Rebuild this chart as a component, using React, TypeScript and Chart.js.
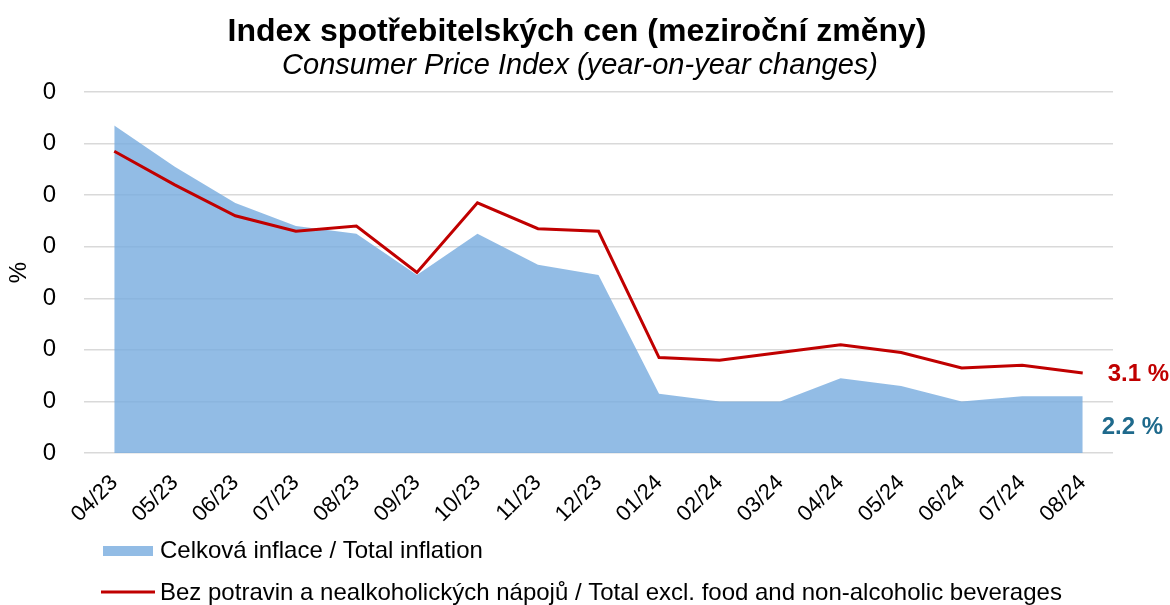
import React, { useEffect, useRef } from "react";
import { Chart, registerables } from "chart.js";

Chart.register(...registerables);

const categories = ["04/23", "05/23", "06/23", "07/23", "08/23", "09/23", "10/23", "11/23", "12/23", "01/24", "02/24", "03/24", "04/24", "05/24", "06/24", "07/24", "08/24"];
const totalInflation = [12.7, 11.1, 9.7, 8.8, 8.5, 6.9, 8.5, 7.3, 6.9, 2.3, 2.0, 2.0, 2.9, 2.6, 2.0, 2.2, 2.2];
const exclFood = [11.7, 10.4, 9.2, 8.6, 8.8, 7.0, 9.7, 8.7, 8.6, 3.7, 3.6, 3.9, 4.2, 3.9, 3.3, 3.4, 3.1];
const yTickLabel = "0";
const titleText = "Index spotřebitelských cen (meziroční změny)";
const subtitleText = "Consumer Price Index (year-on-year changes)";
const legendLabels = ["Celková inflace / Total inflation", "Bez potravin a nealkoholických nápojů / Total excl. food and non-alcoholic beverages"];
const endLabels = ["2.2 %", "3.1 %"];

const FONT = "'Liberation Sans', Arial, sans-serif";
const RED = "#C00000";
const BLUE_FILL = "rgba(119,171,223,0.8)";
const BLUE_LEGEND = "#92BCE5";
const BLUE_TEXT = "#1F6A8C";

const overlay = {
  id: "overlay",
  afterDraw(chart: any) {
    const ctx = chart.ctx;
    const xs = chart.scales.x;
    const ys = chart.scales.y;
    ctx.save();
    ctx.fillStyle = "#000";
    ctx.textAlign = "center";
    ctx.textBaseline = "middle";
    ctx.font = `bold 32px ${FONT}`;
    ctx.fillText(titleText, 577, 32);
    ctx.font = `italic 29px ${FONT}`;
    ctx.fillText(subtitleText, 580, 66);

    // end labels
    const lastX = xs.getPixelForValue(categories.length - 1);
    ctx.textAlign = "left";
    ctx.font = `bold 24px ${FONT}`;
    ctx.fillStyle = RED;
    ctx.fillText(endLabels[1], lastX + 25, ys.getPixelForValue(exclFood[exclFood.length - 1]) + 1);
    ctx.fillStyle = BLUE_TEXT;
    ctx.fillText(endLabels[0], lastX + 19, ys.getPixelForValue(totalInflation[totalInflation.length - 1]) + 31);

    // legend
    ctx.font = `24px ${FONT}`;
    ctx.fillStyle = BLUE_LEGEND;
    ctx.fillRect(103, 546, 50, 10);
    ctx.fillStyle = "#000";
    ctx.fillText(legendLabels[0], 160, 551);
    ctx.strokeStyle = RED;
    ctx.lineWidth = 3;
    ctx.beginPath();
    ctx.moveTo(101, 592);
    ctx.lineTo(155, 592);
    ctx.stroke();
    ctx.fillStyle = "#000";
    ctx.fillText(legendLabels[1], 160, 593);
    ctx.restore();
  },
};

export default function App() {
  const ref = useRef<HTMLCanvasElement>(null);
  useEffect(() => {
    if (!ref.current) return;
    const chart = new Chart(ref.current, {
      type: "line",
      data: {
        labels: categories,
        datasets: [
          {
            label: legendLabels[1],
            data: exclFood,
            borderColor: RED,
            borderWidth: 3,
            pointRadius: 0,
            tension: 0,
            fill: false,
            order: 0,
          },
          {
            label: legendLabels[0],
            data: totalInflation,
            borderWidth: 0,
            borderColor: "rgba(0,0,0,0)",
            backgroundColor: BLUE_FILL,
            pointRadius: 0,
            tension: 0,
            fill: "origin",
            order: 1,
          },
        ],
      },
      options: {
        animation: false,
        responsive: true,
        maintainAspectRatio: false,
        layout: { padding: { top: 92, right: 57, bottom: 82, left: 0 } },
        plugins: { legend: { display: false }, tooltip: { enabled: false }, title: { display: false } },
        scales: {
          x: {
            offset: true,
            grid: { display: false },
            border: { display: false },
            ticks: {
              color: "#000",
              font: { family: FONT, size: 22 },
              minRotation: 45,
              maxRotation: 45,
              autoSkip: false,
              padding: 9,
            },
            afterFit: (s: any) => { s.height = 70; },
          },
          y: {
            min: 0,
            max: 14,
            ticks: {
              stepSize: 2,
              color: "#000",
              font: { family: FONT, size: 24 },
              padding: 28,
              callback: () => yTickLabel,
            },
            grid: { color: "#D9D9D9", lineWidth: 1.5, drawTicks: false },
            border: { display: false },
            title: { display: true, text: "%", color: "#000", font: { family: FONT, size: 24 }, padding: { top: 5, bottom: 0 } },
            afterFit: (s: any) => { s.width = 84; },
          },
        },
      },
      plugins: [overlay],
    });
    return () => chart.destroy();
  }, []);
  return (
    <div style={{ position: "fixed", left: 0, top: 0, width: 1170, height: 605, background: "#fff" }}>
      <canvas ref={ref} />
    </div>
  );
}
